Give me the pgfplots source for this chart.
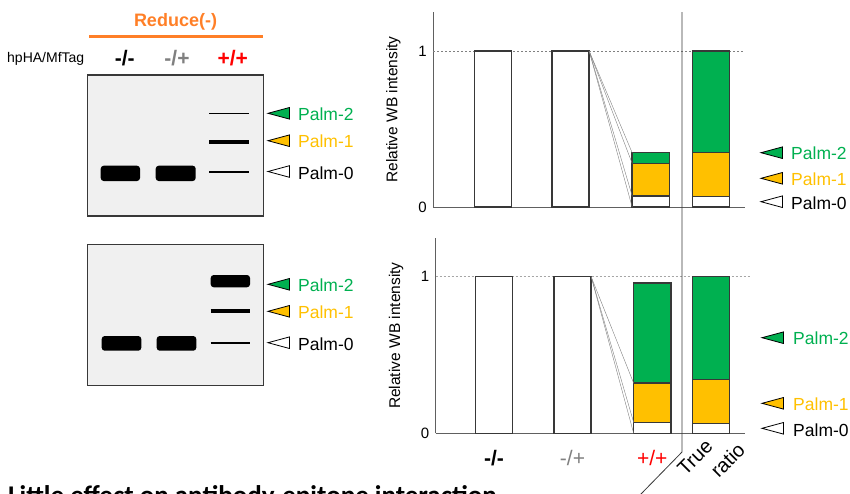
\documentclass[border=0pt]{standalone}
\usepackage{pgfplots}
\usepackage{pgfplotstable}
\pgfplotsset{compat=1.18}
\usepackage{fontspec}
\setmainfont{Liberation Sans}
\newfontfamily\carlito{Carlito}
\definecolor{pgreen}{HTML}{00B050}
\definecolor{pyellow}{HTML}{FFC000}
\definecolor{porange}{HTML}{FF7F27}
\definecolor{gelbg}{HTML}{F0F0F0}
\definecolor{edge}{HTML}{383838}
\newcommand{\fs}[1]{\fontsize{#1}{#1}\selectfont}

% x = bar centre (pt from the y axis), p0/p1/p2 = Palm-0/1/2 share
\pgfplotstableread{
x     p0    p1    p2
59.7  1     0     0
137.2 1     0     0
217.5 0.072 0.208 0.068
277.7 0.066 0.282 0.652
}\topdata
\pgfplotstableread{
x     p0    p1    p2
58.3  1     0     0
136.8 1     0     0
216.6 0.070 0.250 0.640
275.3 0.064 0.278 0.658
}\botdata

\pgfplotsset{
  wb/.style={
    scale only axis, anchor=south west, clip=false,
    xmin=0, ymin=0,
    axis lines=left, axis line style={-, draw=edge!80, line width=0.8pt},
    ytick={0,1}, major tick length=0pt,
    yticklabel style={font=\fs{15}, xshift=-3pt},
    /pgf/number format/assume math mode=true,
    ybar stacked, bar width=37.3,
    ylabel={Relative WB intensity},
    ylabel style={font=\fs{15.5}, at={(axis description cs:-0.128,0.5)}, anchor=center},
  },
  bar/.style={draw=edge, line width=1.5pt},
  link/.style={stack plots=false, sharp plot, no markers, forget plot, draw=gray, line width=0.4pt},
}

\begin{document}
\begin{tikzpicture}
\useasboundingbox (0,0) rectangle (850pt,-493pt);
\clip (0,0) rectangle (850pt,-493pt);

% ---------- top chart ----------
\begin{axis}[wb, at={(433.3pt,-207pt)}, width=311.7pt, height=195pt,
  xmax=311.7, ymax=1.25, xtick=\empty]
  \addplot[link] coordinates {(155.85,1) (198.85,0.348)};
  \addplot[link] coordinates {(155.85,1) (198.85,0.28)};
  \addplot[link] coordinates {(155.85,1) (198.85,0.072)};
  \addplot[link] coordinates {(155.85,1) (198.85,0)};
  \addplot[bar, fill=white] table[x=x, y=p0] {\topdata};
  \addplot[bar, fill=pyellow] table[x=x, y=p1] {\topdata};
  \addplot[bar, fill=pgreen] table[x=x, y=p2] {\topdata};
  \addplot[stack plots=false, sharp plot, no markers, forget plot, draw=gray, line width=0.6pt,
    dash pattern=on 2pt off 2pt] coordinates {(0,1) (311.7,1)};
\end{axis}

% ---------- bottom chart ----------
\begin{axis}[wb, at={(435.7pt,-433.3pt)}, width=309.3pt, height=195.3pt,
  xmax=309.3, ymax=1.247,
  xtick={58.3,136.8,216.6},
  xticklabels={\textbf{-/-}, \textcolor{gray}{-/+}, \textcolor{red}{+/+}},
  xticklabel style={font=\fs{21}, anchor=base, yshift=-32pt}]
  \addplot[link] coordinates {(155.45,1) (197.95,0.32)};
  \addplot[link] coordinates {(155.45,1) (197.95,0.07)};
  \addplot[link] coordinates {(155.45,1) (197.95,0)};
  \addplot[bar, fill=white] table[x=x, y=p0] {\botdata};
  \addplot[bar, fill=pyellow] table[x=x, y=p1] {\botdata};
  \addplot[bar, fill=pgreen] table[x=x, y=p2] {\botdata};
  \addplot[stack plots=false, sharp plot, no markers, forget plot, draw=gray!70, line width=0.6pt,
    dash pattern=on 2pt off 2pt] coordinates {(0,1) (314.3,1)};
\end{axis}

\begin{scope}[x=1pt, y=-1pt]
  % divider
  \draw[edge, line width=0.8pt] (682,12) -- (682,452) -- (640,495);
  \node[rotate=45, font=\fs{20}, inner sep=0] at (695,457.5) {True};
  \node[rotate=45, font=\fs{20}, inner sep=0] at (727.5,460) {ratio};

  % header
  \node[text=porange, font=\fs{18}\bfseries, inner sep=0] at (175.5,22) {Reduce(-)};
  \draw[porange, line width=2.5pt] (89,36.7) -- (263,36.7);
  \node[anchor=west, font=\fs{14}, inner sep=0] at (7,58.5) {hpHA/MfTag};
  \node[font=\fs{21}\bfseries, inner sep=0] at (124.7,58) {-/-};
  \node[font=\fs{21}\bfseries, text=gray, inner sep=0] at (177,58) {-/+};
  \node[font=\fs{21}\bfseries, text=red, inner sep=0] at (232.7,58) {+/+};

  % gel 1
  \draw[fill=gelbg, draw=edge, line width=1.3pt] (87.7,75) rectangle (263.3,216);
  \fill[rounded corners=3pt] (100.7,165.7) rectangle (140,181);
  \fill[rounded corners=3pt] (155.7,165.7) rectangle (195.7,181);
  \draw[line width=1.5pt] (209.3,113.3) -- (249,113.3);
  \draw[line width=4pt] (209.3,141.7) -- (249,141.7);
  \draw[line width=2pt] (209.3,172.3) -- (249,172.3);

  % gel 2
  \draw[fill=gelbg, draw=edge, line width=1.3pt] (87.7,244.3) rectangle (263.7,385.7);
  \fill[rounded corners=3pt] (101.7,336) rectangle (141.3,350.7);
  \fill[rounded corners=3pt] (156.7,336) rectangle (196.3,350.7);
  \fill[rounded corners=3pt] (210.7,275) rectangle (250,287.3);
  \draw[line width=4pt] (210.7,311.3) -- (250,311.3);
  \draw[line width=2pt] (210.7,342.7) -- (250,342.7);

  % arrow labels
  \foreach \ax/\tx/\ya/\yb/\yc in {268/298/113.3/140.7/171.5, 268/298/284.3/311.3/342.7,
                                   761/791/152.7/178.3/201.7, 762/793/337.7/403.3/428.3}{
    \draw[fill=pgreen, line width=0.8pt] (\ax,\ya) -- (\ax+21.5,\ya-5.8) -- (\ax+21.5,\ya+5.8) -- cycle;
    \draw[fill=pyellow, line width=0.8pt] (\ax,\yb) -- (\ax+21.5,\yb-5.8) -- (\ax+21.5,\yb+5.8) -- cycle;
    \draw[fill=white, line width=0.8pt] (\ax,\yc) -- (\ax+21.5,\yc-5.8) -- (\ax+21.5,\yc+5.8) -- cycle;
    \node[anchor=west, inner sep=0, font=\fs{17.5}, text=pgreen] at (\tx,\ya+1) {Palm-2};
    \node[anchor=west, inner sep=0, font=\fs{17.5}, text=pyellow] at (\tx,\yb+1) {Palm-1};
    \node[anchor=west, inner sep=0, font=\fs{17.5}] at (\tx,\yc+1.5) {Palm-0};
  }

  \node[anchor=base west, inner sep=0, font=\carlito\bfseries\fs{27}] at (8,504)
    {Little effect on antibody-epitope interaction};
\end{scope}
\end{tikzpicture}
\end{document}
